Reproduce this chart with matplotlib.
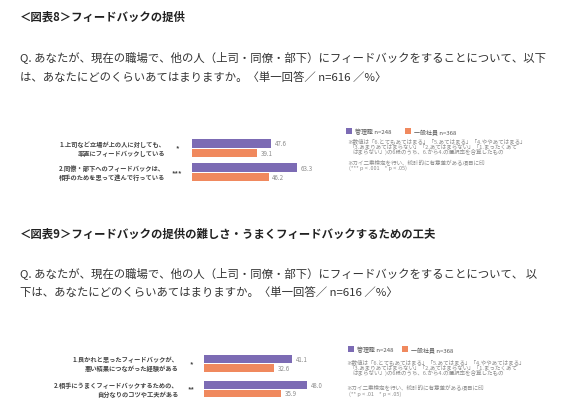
import matplotlib
matplotlib.use("Agg")
import matplotlib.pyplot as plt
import matplotlib.transforms as mtransforms
import numpy as np

plt.rcParams['font.family'] = ['Noto Sans CJK JP', 'DejaVu Sans']

# ---------------- data ----------------
series_names = ["管理職 n=248", "一般社員 n=368"]

c8_title = "＜図表8＞フィードバックの提供"
c8_q = ["Q. あなたが、現在の職場で、他の人（上司・同僚・部下）にフィードバックをすることについて、以下",
        "は、あなたにどのくらいあてはまりますか。〈単一回答／ n=616 ／%〉"]
c8_cats = [["1.上司など立場が上の人に対しても、", "率直にフィードバックしている"],
           ["2.同僚・部下へのフィードバックは、", "相手のためを思って進んで行っている"]]
c8_mgr = [47.6, 63.3]
c8_emp = [39.1, 46.2]
c8_sig = ["*", "***"]
c8_notes = ["※数値は「6.とてもあてはまる」「5.あてはまる」「4.ややあてはまる」",
            "「3.あまりあてはまらない」「2.あてはまらない」「1.まったくあて",
            "はまらない」)の6段のうち、6.から4.の選択率を合算したもの",
            "※カイ二乗検定を行い、統計的に有意差がある項目に印",
            "(*** p < .001    * p < .05)"]

c9_title = "＜図表9＞フィードバックの提供の難しさ・うまくフィードバックするための工夫"
c9_q = ["Q. あなたが、現在の職場で、他の人（上司・同僚・部下）にフィードバックをすることについて、 以",
        "下は、あなたにどのくらいあてはまりますか。〈単一回答／ n=616 ／%〉"]
c9_cats = [["1.良かれと思ったフィードバックが、", "悪い結果につながった経験がある"],
           ["2.相手にうまくフィードバックするための、", "自分なりのコツや工夫がある"]]
c9_mgr = [41.1, 48.0]
c9_emp = [32.6, 35.9]
c9_sig = ["*", "**"]
c9_notes = ["※数値は「6.とてもあてはまる」「5.あてはまる」「4.ややあてはまる」",
            "「3.あまりあてはまらない」「2.あてはまらない」「1.まったくあて",
            "はまらない」)の6段のうち、6.から4.の選択率を合算したもの",
            "※カイ二乗検定を行い、統計的に有意差がある項目に印",
            "(** p < .01    * p < .05)"]

# ---------------- style ----------------
W, H = 567, 414
PURPLE = "#7C6BB4"
ORANGE = "#F0895E"
fig = plt.figure(figsize=(W / 100, H / 100), dpi=100)
fig.patch.set_facecolor("white")

def fx(px):
    return px / W

def fy(py):
    return 1 - py / H

def header(title, qlines, ty, qy):
    fig.text(fx(20), fy(ty), title, fontsize=8.2, fontweight="bold", color="#222222",
             ha="left", va="center")
    for line, y in zip(qlines, qy):
        fig.text(fx(20), fy(y), line, fontsize=8.2, color="#333333", ha="left", va="center")

def chart(left, unit, top, scale, mgr, emp, cats, sig, label_x, sig_x,
          off_px, h_px, line_px, legend_pos, colspace, notes, note_x, note_y):
    n = len(mgr)
    width_px = 100 * scale
    height_px = n * unit
    ax = fig.add_axes([fx(left), fy(top + height_px), width_px / W, height_px / H])
    ax.set_xlim(0, 100)
    ax.set_ylim(n - 0.5, -0.5)
    ax.axis("off")
    y = np.arange(n)
    off = off_px / unit
    h = h_px / unit
    b1 = ax.barh(y - off, mgr, height=h, color=PURPLE, label=series_names[0])
    b2 = ax.barh(y + off, emp, height=h, color=ORANGE, label=series_names[1])
    for yy, v in zip(y - off, mgr):
        ax.annotate(f"{v:.1f}", (v, yy), xytext=(2.6, 0), textcoords="offset points",
                    fontsize=4.4, color="#8a8a8a", va="center", ha="left")
    for yy, v in zip(y + off, emp):
        ax.annotate(f"{v:.1f}", (v, yy), xytext=(2.6, 0), textcoords="offset points",
                    fontsize=4.4, color="#8a8a8a", va="center", ha="left")
    tr = mtransforms.blended_transform_factory(fig.transFigure, ax.transData)
    d = line_px / unit
    for i, (lines, s) in enumerate(zip(cats, sig)):
        ax.text(fx(label_x), i - d, lines[0], transform=tr, fontsize=4.5, color="#444444",
                ha="right", va="center", fontweight="bold")
        ax.text(fx(label_x), i + d, lines[1], transform=tr, fontsize=4.5, color="#444444",
                ha="right", va="center", fontweight="bold")
        ax.text(fx(sig_x), i, s, transform=tr, fontsize=5, color="#444444",
                ha="center", va="center", fontweight="bold")
    fig.legend(handles=[b1, b2], labels=series_names, loc="center left",
               bbox_to_anchor=(fx(legend_pos[0]), fy(legend_pos[1])), ncol=2,
               frameon=False, fontsize=4.3, handlelength=0.95, handleheight=0.95,
               handletextpad=0.5, columnspacing=colspace, borderpad=0, borderaxespad=0,
               labelcolor="#555555")
    for line, xx, yy in zip(notes, note_x, note_y):
        fig.text(fx(xx), fy(yy), line, fontsize=4.0, color="#8a8a8a", ha="left", va="center")

header(c8_title, c8_q, 17, [57, 78])
chart(left=192, unit=24.25, top=137, scale=1.66, mgr=c8_mgr, emp=c8_emp, cats=c8_cats,
      sig=c8_sig, label_x=165, sig_x=177, off_px=4.8, h_px=8.5, line_px=4.5,
      legend_pos=(346, 132), colspace=2.4, notes=c8_notes,
      note_x=[347, 349, 352, 347, 349], note_y=[141, 146.5, 152, 163, 168.5])

header(c9_title, c9_q, 234, [273, 293])
chart(left=204, unit=25.5, top=351.75, scale=2.15, mgr=c9_mgr, emp=c9_emp, cats=c9_cats,
      sig=c9_sig, label_x=178, sig_x=191, off_px=4.3, h_px=7.6, line_px=4.5,
      legend_pos=(348, 350), colspace=1.5, notes=c9_notes,
      note_x=[346, 349, 352, 346, 349], note_y=[362, 367.5, 373, 388, 394])

fig.savefig("out.png", dpi=100, facecolor="white")
